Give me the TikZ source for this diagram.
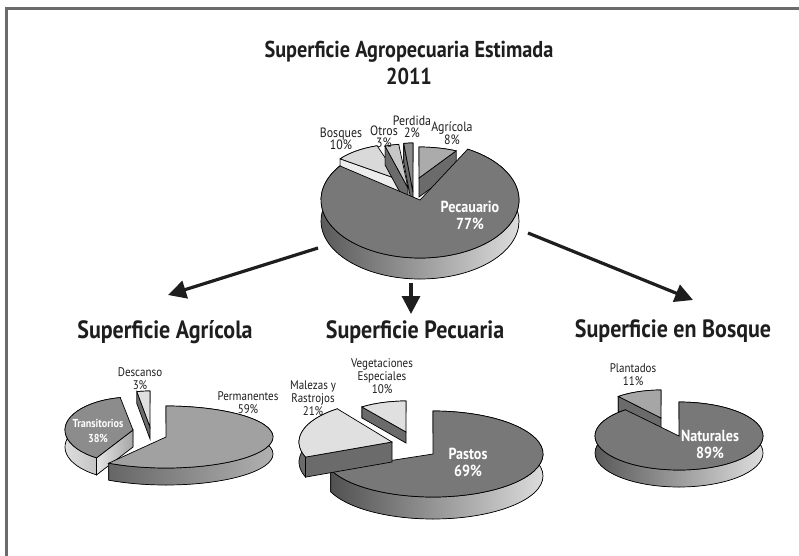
\documentclass[tikz,border=0pt]{standalone}
\usepackage{fontspec}
\setmainfont{PT Sans}[FakeStretch=0.88]
\usepackage{xcolor}
\usepackage{tikz}
\usetikzlibrary{arrows.meta}

\definecolor{framegray}{HTML}{6B6B6B}
\definecolor{ink}{HTML}{1E1E1E}

% height of the slices drawn next
\def\pieh{20}
% one slice: centre, radii, start/end angle, top colour, side style
\newcommand{\pieslice}[8]{%
  \filldraw[#8] (#1,#2) ++(#5:#3 and #4)
    arc[start angle=#5, end angle=#6, x radius=#3, y radius=#4]
    -- ++(0,-\pieh)
    arc[start angle=#6, end angle=#5, x radius=#3, y radius=#4] -- cycle;
  \pgfmathsetmacro\cosa{cos(#5)}%
  \pgfmathsetmacro\cosb{cos(#6)}%
  \ifdim\cosa pt>0.01pt
    \filldraw[#8] (#1,#2) -- ++(#5:#3 and #4) -- ++(0,-\pieh) -- (#1,#2-\pieh) -- cycle;
  \fi
  \ifdim\cosb pt<-0.01pt
    \filldraw[#8] (#1,#2) -- ++(#6:#3 and #4) -- ++(0,-\pieh) -- (#1,#2-\pieh) -- cycle;
  \fi
  \filldraw[fill=#7] (#1,#2) -- ++(#5:#3 and #4)
    arc[start angle=#5, end angle=#6, x radius=#3, y radius=#4] -- cycle;
}

\begin{document}
\begin{tikzpicture}[x=1pt, y=1pt, line width=.7pt,
    lab/.style={align=center, text=ink, font=\fontsize{12.5}{13}\selectfont},
    toplab/.style={align=center, text=ink, font=\fontsize{13.5}{12.5}\selectfont},
    inlab/.style={align=center, text=white, font=\bfseries\fontsize{16}{17}\selectfont},
    head/.style={anchor=base, text=ink, font=\bfseries\fontsize{23}{26}\selectfont},
    sub/.style={anchor=base, text=ink, font=\bfseries\fontsize{25}{29}\selectfont},
    sidegrad/.style={left color=black!68, right color=black!10},
    sidemid/.style={left color=black!60, right color=black!28},
    sidelight/.style={left color=black!10, right color=black!35},
    sidedark/.style={fill=black!58},
    sidepale/.style={fill=black!7},
    arr/.style={line width=3.2pt, ink, -{Triangle[length=18pt, width=18pt]}}]
  \clip (0,0) rectangle (799,555);
  \fill[white] (0,0) rectangle (799,555);
  \draw[framegray, line width=3pt] (6.5,-20) -- (6.5,546.5) -- (820,546.5);

  % titles
  \node[head] (title) at (409,497) {Superficie Agropecuaria Estimada};
  \node[head] (year) at (409,470) {2011};
  \node[sub] (t-agr) at (165,217) {Superficie Agrícola};
  \node[sub] (t-pec) at (415,217) {Superficie Pecuaria};
  \node[sub] (t-bos) at (673,218) {Superficie en Bosque};

  % main pie
  \def\pieh{19}
  \pieslice{400}{375}{74}{36}{108}{144}{black!15}{sidepale}
  \pieslice{408}{367}{74}{44}{97.2}{108}{black!22}{sidedark}
  \pieslice{413}{363}{74}{49}{90}{97.2}{black!45}{sidedark}
  \pieslice{419}{377}{77}{31}{61.2}{90}{black!33}{sidedark}
  \def\pieh{21}
  \pieslice{420}{355}{99}{58}{144}{421.2}{black!53}{sidegrad}
  \node[toplab] (l-bosques) at (341,416) {Bosques\\10\%};
  \node[toplab] (l-otros) at (384,418) {Otros\\3\%};
  \node[toplab] (l-perdida) at (412,428) {Perdida\\2\%};
  \node[toplab] (l-agricola) at (452,422) {Agrícola\\8\%};
  \node[inlab] (l-pecuario) at (470,340) {Pecauario\\77\%};

  % agricultural pie
  \def\pieh{12}
  \pieslice{150}{128}{70}{36}{90}{100.8}{black!12}{sidedark}
  \def\pieh{17}
  \pieslice{133}{125}{68}{33}{100.8}{237.6}{black!45}{sidelight}
  \pieslice{166}{118}{107}{31}{237.6}{450}{black!37}{sidemid}
  \node[lab] (l-descanso) at (140,176) {Descanso\\3\%};
  \node[lab] (l-perm) at (248,152) {Permanentes\\59\%};
  \node[inlab, font=\bfseries\fontsize{11.5}{15}\selectfont] (l-trans) at (98,124) {Transitorios\\38\%};

  % livestock pie
  \def\pieh{11}
  \pieslice{406}{123}{75}{31}{90}{126}{black!12}{sidedark}
  \def\pieh{22}
  \pieslice{433}{101}{110}{43}{201.6}{450}{black!53}{sidegrad}
  \def\pieh{20}
  \pieslice{392}{113}{93}{41}{126}{201.6}{black!12}{sidedark}
  \node[lab] (l-veget) at (382,179) {Vegetaciones\\Especiales\\10\%};
  \node[lab] (l-malezas) at (313,157) {Malezas y\\Rastrojos\\21\%};
  \node[inlab] (l-pastos) at (468,93) {Pastos\\69\%};

  % forest pie
  \def\pieh{15}
  \pieslice{661}{137}{67}{28}{90}{129.6}{black!35}{sidedark}
  \def\pieh{17}
  \pieslice{679}{119}{84}{34}{129.6}{450}{black!53}{sidegrad}
  \node[lab] (l-plant) at (633,180) {Plantados\\11\%};
  \node[inlab] (l-natur) at (710,111) {Naturales\\89\%};

  % arrows
  \coordinate (from-l) at (318,307);
  \coordinate (to-l) at (168,260);
  \coordinate (from-c) at (411,272);
  \coordinate (to-c) at (411,241);
  \coordinate (from-r) at (528,322);
  \coordinate (to-r) at (693,255);
  \draw[arr] (from-l) -- (to-l);
  \draw[arr] (from-c) -- (to-c);
  \draw[arr] (from-r) -- (to-r);
\end{tikzpicture}
\end{document}
